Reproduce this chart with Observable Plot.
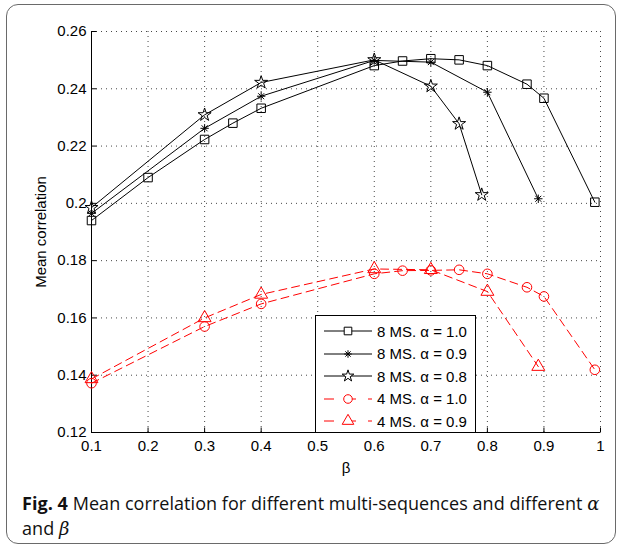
<!DOCTYPE html>
<html>
<head>
<meta charset="utf-8">
<script src="https://cdn.jsdelivr.net/npm/d3@7"></script>
<script src="https://cdn.jsdelivr.net/npm/@observablehq/plot@0.6"></script>
<style>
  html, body { margin: 0; padding: 0; background: #fff; }
  #wrap { position: relative; width: 624px; height: 554px; overflow: hidden; background: #fff; }
  #frame { position: absolute; left: 6px; top: 4px; width: 610px; height: 540px; border: 1.5px solid #6a6a6a; border-radius: 12px; box-sizing: border-box; }
  #chart { position: absolute; left: 0; top: 0; }
  #legend { position: absolute; left: 315px; top: 315px; width: 161px; height: 118px; border: 1px solid #000; background: #fff; box-sizing: border-box; font-family: "Liberation Sans", Arial, sans-serif; font-size: 15px; }
  .row { position: absolute; left: 0; height: 22px; display: flex; align-items: center; }
  .row svg { display: block; }
  .row span { margin-left: 3px; white-space: nowrap; }
  #caption { position: absolute; left: 22px; top: 491px; width: 595px; font-family: "Open Sans", "Noto Sans", sans-serif; font-size: 18px; line-height: 25px; color: #111; letter-spacing: 0.05px; }
  #caption b { font-weight: 700; }
  .m { font-family: "DejaVu Serif", "Liberation Serif", serif; font-style: italic; }
</style>
</head>
<body>
<div id="wrap">
  <div id="frame"></div>
  <div id="chart"></div>
  <div id="legend"></div>
  <div id="caption"><b>Fig. 4</b> Mean correlation for different multi-sequences and different <span class="m">α</span><br>and <span class="m">β</span></div>
</div>
<script>
// ---- data ----
const xTicks = [0.1, 0.2, 0.3, 0.4, 0.5, 0.6, 0.7, 0.8, 0.9, 1];
const xTickLabels = ["0.1", "0.2", "0.3", "0.4", "0.5", "0.6", "0.7", "0.8", "0.9", "1"];
const yTicks = [0.12, 0.14, 0.16, 0.18, 0.2, 0.22, 0.24, 0.26];
const yTickLabels = ["0.12", "0.14", "0.16", "0.18", "0.2", "0.22", "0.24", "0.26"];

const beta8a10 = [0.1, 0.2, 0.3, 0.35, 0.4, 0.6, 0.65, 0.7, 0.75, 0.8, 0.87, 0.9, 0.99];
const corr8a10 = [0.194, 0.209, 0.2223, 0.228, 0.2332, 0.2481, 0.2497, 0.2505, 0.2501, 0.2481, 0.2416, 0.2367, 0.2004];

const beta8a09 = [0.1, 0.3, 0.4, 0.6, 0.7, 0.8, 0.89];
const corr8a09 = [0.1965, 0.2262, 0.2374, 0.2499, 0.2493, 0.2388, 0.2016];

const beta8a08 = [0.1, 0.3, 0.4, 0.6, 0.7, 0.75, 0.79];
const corr8a08 = [0.1985, 0.2309, 0.2422, 0.2501, 0.2409, 0.2278, 0.2030];

const beta4a10 = [0.1, 0.3, 0.4, 0.6, 0.65, 0.7, 0.75, 0.8, 0.87, 0.9, 0.99];
const corr4a10 = [0.1372, 0.157, 0.1649, 0.1754, 0.1765, 0.1766, 0.1768, 0.1754, 0.1707, 0.1675, 0.1419];

const beta4a09 = [0.1, 0.3, 0.4, 0.6, 0.7, 0.8, 0.89];
const corr4a09 = [0.1387, 0.16, 0.1682, 0.1771, 0.1768, 0.1692, 0.143];

const seriesNames = ["8 MS. α = 1.0", "8 MS. α = 0.9", "8 MS. α = 0.8", "4 MS. α = 1.0", "4 MS. α = 0.9"];

// ---- symbols ----
const asterisk8 = {
  draw(ctx, size) {
    const r = Math.sqrt(size / Math.PI);
    const d = r * Math.SQRT1_2;
    ctx.moveTo(-r, 0); ctx.lineTo(r, 0);
    ctx.moveTo(0, -r); ctx.lineTo(0, r);
    ctx.moveTo(-d, -d); ctx.lineTo(d, d);
    ctx.moveTo(-d, d); ctx.lineTo(d, -d);
  }
};
const tickUp = { draw(ctx) { ctx.moveTo(0, 0); ctx.lineTo(0, -5); } };
const tickRight = { draw(ctx) { ctx.moveTo(0, 0); ctx.lineTo(5, 0); } };

const series = [
  {name: seriesNames[0], xs: beta8a10, ys: corr8a10, color: "#000", dash: null, symbol: d3.symbolSquare, r: 4.8},
  {name: seriesNames[1], xs: beta8a09, ys: corr8a09, color: "#000", dash: null, symbol: asterisk8, r: 4.2},
  {name: seriesNames[2], xs: beta8a08, ys: corr8a08, color: "#000", dash: null, symbol: d3.symbolStar, r: 4.1},
  {name: seriesNames[3], xs: beta4a10, ys: corr4a10, color: "#ff0000", dash: "8,5", symbol: d3.symbolCircle, r: 4.8},
  {name: seriesNames[4], xs: beta4a09, ys: corr4a09, color: "#ff0000", dash: "8,5", symbol: d3.symbolTriangle, r: 4.8}
];

const marks = [
  Plot.gridX(xTicks, {stroke: "#333", strokeOpacity: 0.9, strokeDasharray: "1,4"}),
  Plot.gridY(yTicks, {stroke: "#333", strokeOpacity: 0.9, strokeDasharray: "1,4"}),
  Plot.axisX(xTicks, {tickSize: 0, tickPadding: 8, tickFormat: (d, i) => xTickLabels[i], label: "β", labelAnchor: "center", labelOffset: 40, labelArrow: "none"}),
  Plot.axisY(yTicks, {tickSize: 0, tickPadding: 5, tickFormat: (d, i) => yTickLabels[i], label: "Mean correlation", labelAnchor: "center", labelOffset: 56, labelArrow: "none"}),
  Plot.dot(xTicks, {x: d => d, frameAnchor: "bottom", symbol: tickUp, stroke: "#000", fill: "none", strokeWidth: 1}),
  Plot.dot(yTicks, {y: d => d, frameAnchor: "left", symbol: tickRight, stroke: "#000", fill: "none", strokeWidth: 1}),
  Plot.ruleX([xTicks[0]], {stroke: "#000", strokeWidth: 1}),
  Plot.ruleY([yTicks[0]], {stroke: "#000", strokeWidth: 1})
];
for (const s of series) {
  const data = s.xs.map((x, i) => ({x, y: s.ys[i]}));
  marks.push(Plot.line(data, {x: "x", y: "y", stroke: s.color, strokeWidth: 1, strokeDasharray: s.dash || undefined}));
  marks.push(Plot.dot(data, {x: "x", y: "y", symbol: s.symbol, r: s.r, stroke: s.color, fill: "none", strokeWidth: 1}));
}

const chart = Plot.plot({
  width: 624,
  height: 480,
  marginLeft: 91,
  marginRight: 24,
  marginTop: 31,
  marginBottom: 48,
  x: {domain: [0.1, 1]},
  y: {domain: [0.12, 0.26]},
  style: {fontFamily: "'Liberation Sans', Arial, sans-serif", fontSize: "15px", background: "transparent", color: "#000"},
  marks
});
document.getElementById("chart").appendChild(chart);

// ---- legend ----
const legend = document.getElementById("legend");
series.forEach((s, i) => {
  const row = document.createElement("div");
  row.className = "row";
  row.style.top = (4 + i * 22.5) + "px";
  const svg = d3.create("svg").attr("width", 58).attr("height", 22);
  svg.append("line").attr("x1", 8).attr("x2", 56).attr("y1", 11).attr("y2", 11)
    .attr("stroke", s.color).attr("stroke-width", 1).attr("stroke-dasharray", s.dash ? "10,12" : null);
  svg.append("path").attr("transform", "translate(32,11)")
    .attr("d", d3.symbol(s.symbol, Math.PI * s.r * s.r * 0.8)())
    .attr("fill", "white").attr("stroke", s.color).attr("stroke-width", 1);
  row.appendChild(svg.node());
  const t = document.createElement("span");
  t.textContent = s.name;
  row.appendChild(t);
  legend.appendChild(row);
});
</script>
</body>
</html>
